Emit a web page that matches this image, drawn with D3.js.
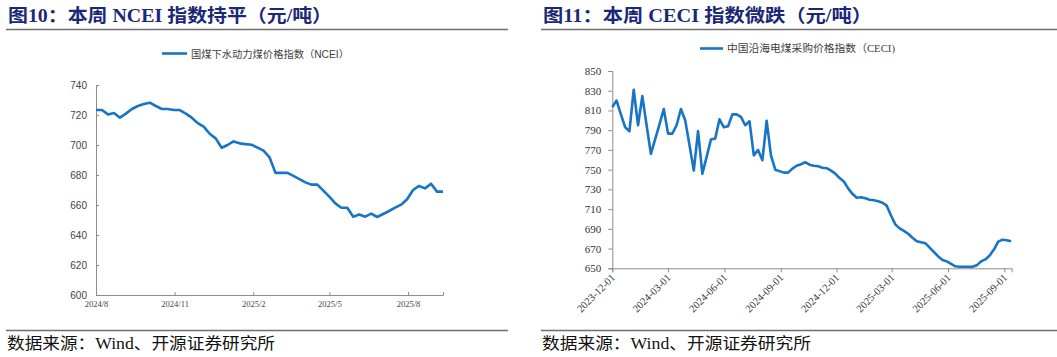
<!DOCTYPE html>
<html><head><meta charset="utf-8">
<script src="https://cdn.jsdelivr.net/npm/d3@7"></script>
<style>
html,body{margin:0;padding:0;background:#fff;}
svg{display:block;}
</style></head>
<body>
<svg id="c" width="1057" height="357"></svg>
<script>
// ---------- data ----------
const leftTitle = "图10：本周 NCEI 指数持平（元/吨）";
const rightTitle = "图11：本周 CECI 指数微跌（元/吨）";
const sourceText = "数据来源：Wind、开源证券研究所";
const ncieName = "国煤下水动力煤价格指数（NCEI）";
const ceciName = "中国沿海电煤采购价格指数（CECI)";

const ncieStart = "2024-08-01";
const ncieValues = [723.3,723.3,720.4,721.3,718.2,720.9,724,726,727.3,728.2,726,724,724,723.3,723.3,720.9,718.2,714.6,712.2,707.5,704.4,698.2,700,702.4,701.1,700.6,700.2,698.2,696.2,691.8,681.4,681.4,681.4,679.4,677.3,675.1,673.6,673.6,669.6,665.6,661.1,658.2,658.2,652.2,653.6,652.2,654.2,652,654,656,658.2,660.2,663.8,670,672.7,671.1,674.2,668.9,668.9];
const ncieYTicks = [600,620,640,660,680,700,720,740];
const ncieXTicks = ["2024-08-01","2024-11-01","2025-02-01","2025-05-01","2025-08-01"];

const ceciStart = "2023-12-01";
const ceciValues = [813.5,820,806,793,789,831,795,824.5,795,766,781,796,811.5,786.5,786.5,795,811.5,800,775,749,789,746,763,780.5,781.5,801,793,794,806,806,803.5,795,799,764.5,770,759.5,799.5,764.5,750,748.5,747,747,751,754,755.5,757.5,755,754,753.5,752,751.5,749,746,741.5,738,731,725.5,721.5,722,721,719.5,719,718,716.5,713.5,703.5,694.5,690.5,688,685,681,677.5,676.5,675.5,671,666.5,662,658.5,657,654.5,652,651.5,651.5,651.5,651.5,653,657,659,663,669,677,679,678.5,677.5];
const ceciYTicks = [650,670,690,710,730,750,770,790,810,830,850];
const ceciXTicks = ["2023-12-01","2024-03-01","2024-06-01","2024-09-01","2024-12-01","2025-03-01","2025-06-01","2025-09-01"];

// ---------- helpers ----------
const parse = d3.utcParse("%Y-%m-%d");
const weekly = (start, vals) => vals.map((v,i)=>({date:d3.utcDay.offset(parse(start), 7*i), value:v}));
const svg = d3.select("#c");
svg.append("rect").attr("width",1057).attr("height",357).attr("fill","#fff");

const BLUE = "#1874c4";
const NAVY = "#1b2877";
const SERIF = "'Liberation Serif','Noto Sans CJK SC',serif";
const SANS = "'Liberation Sans','Noto Sans CJK SC',sans-serif";

function frame(x0, x1, titleX, title, titleW, footW, lineEnd){
  svg.append("text").attr("x",titleX).attr("y",22).text(title)
    .attr("font-family",SERIF).attr("font-weight","bold").attr("font-size",18)
    .attr("fill",NAVY).attr("textLength",titleW).attr("lengthAdjust","spacingAndGlyphs");
  svg.append("line").attr("x1",x0).attr("x2",lineEnd).attr("y1",29.5).attr("y2",29.5)
    .attr("stroke","#6e6e6e").attr("stroke-width",1.5);
  svg.append("line").attr("x1",x0).attr("x2",lineEnd).attr("y1",330.5).attr("y2",330.5)
    .attr("stroke","#6e6e6e").attr("stroke-width",1.5);
  svg.append("text").attr("x",titleX-1).attr("y",349).text(sourceText)
    .attr("font-family",SERIF).attr("font-size",16).attr("fill","#111")
    .attr("textLength",footW).attr("lengthAdjust","spacingAndGlyphs");
}
frame(6, 508, 8, leftTitle, 324, 268, 508);
frame(541, 1057, 543, rightTitle, 329, 269, 1057);

// ---------- left chart (NCEI) ----------
{
  const data = weekly(ncieStart, ncieValues);
  const x = d3.scaleUtc().domain([parse(ncieStart), data[data.length-1].date]).range([96,443]);
  const y = d3.scaleLinear().domain([600,740]).range([295,85]);
  const g = svg.append("g");
  const ya = g.append("g").attr("transform","translate(96,0)")
    .call(d3.axisRight(y).tickValues(ncieYTicks).tickSize(3).tickFormat(d3.format("d")));
  ya.select(".domain").attr("stroke","#8c8c8c");
  ya.selectAll(".tick line").attr("stroke","#8c8c8c");
  ya.selectAll(".tick text").attr("x",-9).attr("text-anchor","end")
    .attr("font-family",SANS).attr("font-size",10).attr("fill","#444");
  const xa = g.append("g").attr("transform","translate(0,295)")
    .call(d3.axisTop(x).tickValues(ncieXTicks.map(parse)).tickSize(3).tickFormat(d3.utcFormat("%Y/%-m")));
  xa.select(".domain").attr("stroke","#8c8c8c");
  xa.selectAll(".tick line").attr("stroke","#8c8c8c");
  xa.selectAll(".tick text").attr("y",12).attr("dy","0").attr("font-family",SERIF)
    .attr("font-size",8.5).attr("fill","#444");
  g.append("path").datum(data).attr("fill","none").attr("stroke",BLUE).attr("stroke-width",2.6)
    .attr("stroke-linejoin","round")
    .attr("d",d3.line().x(d=>x(d.date)).y(d=>y(d.value)));
  // legend
  svg.append("line").attr("x1",162).attr("x2",187).attr("y1",53.5).attr("y2",53.5)
    .attr("stroke",BLUE).attr("stroke-width",2.6);
  svg.append("text").attr("x",191).attr("y",57.5).text(ncieName)
    .attr("font-family",SANS).attr("font-size",10).attr("fill","#404040")
    .attr("textLength",158).attr("lengthAdjust","spacingAndGlyphs");
}

// ---------- right chart (CECI) ----------
{
  const data = weekly(ceciStart, ceciValues);
  const x = d3.scaleUtc().domain([parse(ceciStart), parse("2025-09-13")]).range([612.3,1011.7]);
  const y = d3.scaleLinear().domain([650,850]).range([268.3,71]);
  const g = svg.append("g");
  const ya = g.append("g").attr("transform","translate(612.3,0)")
    .call(d3.axisLeft(y).tickValues(ceciYTicks).tickSize(4).tickFormat(d3.format("d")));
  ya.select(".domain").attr("stroke","#8c8c8c");
  ya.selectAll(".tick line").attr("stroke","#8c8c8c");
  ya.selectAll(".tick text").attr("x",-11).attr("font-family",SERIF).attr("font-size",11).attr("fill","#333");
  const xa = g.append("g").attr("transform","translate(0,268.3)")
    .call(d3.axisBottom(x).tickValues(ceciXTicks.map(parse)).tickSize(4).tickFormat(d3.utcFormat("%Y-%m-%d")));
  xa.select(".domain").attr("stroke","#8c8c8c");
  xa.selectAll(".tick line").attr("stroke","#8c8c8c");
  xa.selectAll(".tick text").attr("y",0).attr("dy","0")
    .attr("transform","translate(3,10) rotate(-45)").attr("text-anchor","end")
    .attr("font-family",SERIF).attr("font-size",10.5).attr("fill","#333");
  g.append("path").datum(data).attr("fill","none").attr("stroke",BLUE).attr("stroke-width",2.6)
    .attr("stroke-linejoin","round")
    .attr("d",d3.line().x(d=>x(d.date)).y(d=>y(d.value)));
  svg.append("line").attr("x1",700).attr("x2",723).attr("y1",48.5).attr("y2",48.5)
    .attr("stroke",BLUE).attr("stroke-width",2.6);
  svg.append("text").attr("x",727).attr("y",52).text(ceciName)
    .attr("font-family",SERIF).attr("font-size",10.5).attr("fill","#404040")
    .attr("textLength",168).attr("lengthAdjust","spacingAndGlyphs");
}
</script>
</body></html>
